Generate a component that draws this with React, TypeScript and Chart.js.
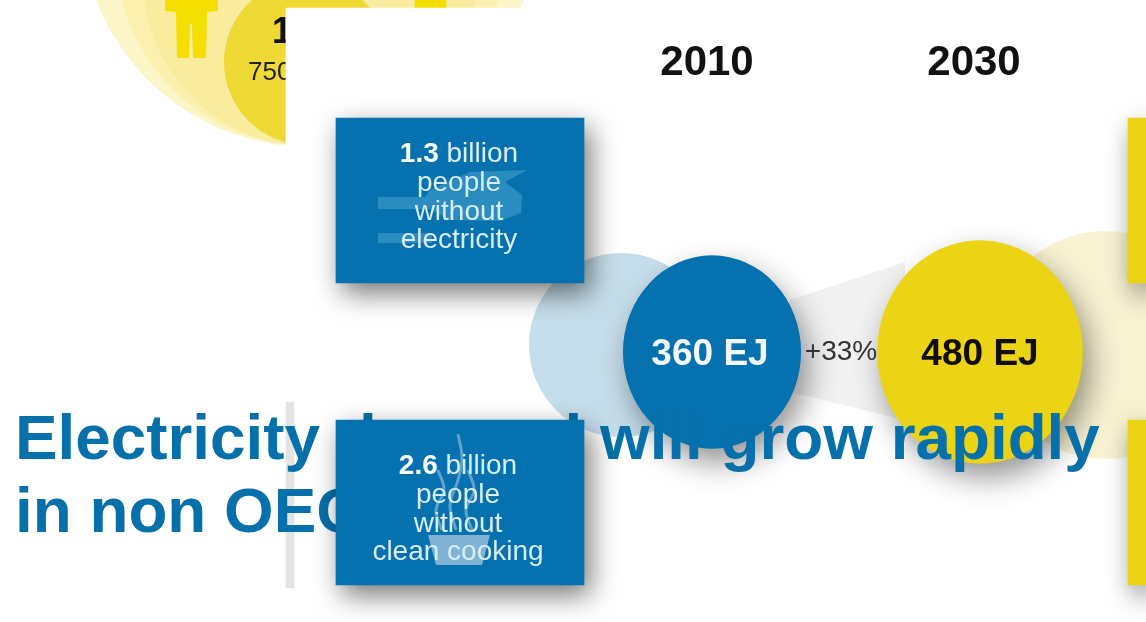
import React, { useEffect, useRef } from "react";
import { Chart, registerables } from "chart.js";

Chart.register(...registerables);

// Energy demand figures shown in the two main circles
const YEARS = ["2010", "2030"];
const ENERGY_EJ = [360, 480];
const GROWTH_LABEL = "+33%";
const TITLE_LINES = ["Electricity demand will grow rapidly", "in non OECD"];
const ELECTRICITY_LINES = ["people", "without", "electricity"];
const COOKING_LINES = ["people", "without", "clean cooking"];
const ELECTRICITY_HEAD = ["1.3", " billion"];
const COOKING_HEAD = ["2.6", " billion"];
const INSET_LABELS = ["1", "750"];

const BLUE = "#0571ae";
const YELLOW = "#ebd413";
const SANS = '"Liberation Sans"';
const W = 1146;
const H = 622;

const disc = (name: string, x: number, y: number, r: number, color: string, extra: any = {}) => ({
  type: "bubble",
  label: name,
  data: [{ x, y, r }],
  backgroundColor: color,
  borderWidth: 0,
  hoverRadius: 0,
  clip: false,
  ...extra,
});

const box = (name: string, x0: number, x1: number, y0: number, y1: number, color: string, extra: any = {}) => ({
  type: "bar",
  label: name,
  data: [{ x: (x0 + x1) / 2, y: [y0, y1] }],
  barThickness: x1 - x0,
  grouped: false,
  backgroundColor: color,
  borderWidth: 0,
  ...extra,
});

const shape = (name: string, pts: number[][], color: string) => ({
  type: "line",
  label: name,
  data: pts.map(([x, y]) => ({ x, y })),
  backgroundColor: color,
  borderWidth: 0,
  pointRadius: 0,
  fill: "shape",
  tension: 0,
  clip: false,
});

const stroke = (name: string, pts: number[][], color: string, width: number, tension = 0) => ({
  type: "line",
  label: name,
  data: pts.map(([x, y]) => ({ x, y })),
  borderColor: color,
  borderWidth: width,
  pointRadius: 0,
  fill: false,
  tension,
});

const boxGlow = { color: "rgba(0,0,0,0.55)", blur: 26, dx: 6, dy: 10 };
const circleGlow = { color: "rgba(0,0,0,0.42)", blur: 30, dx: 7, dy: 14 };
const RADIUS_PER_ROOT_EJ = 4.9;
const CIRCLE_STRETCH = { sx: 0.958, sy: 1.04 };

// Datasets listed from back to front
const layers: any[] = [
  disc("discOuter", 310, -82, 229, "#fcf5c8"),
  disc("discMid", 310, -48, 194, "#fbf0ae"),
  disc("discBand", 310, -21, 167, "#f9ec9e"),
  disc("discInner", 307, 62, 83, "#eed935"),
  shape(
    "personLeft",
    [[165, -4], [165, 11], [176, 12], [177, 58], [189, 58], [190, 24], [192, 24], [193, 58], [206, 58], [207, 12], [218, 11], [218, -4]],
    "#f5df00"
  ),
  box("personRight", 415, 446, 0, 9, "#f5df00"),
  box("panel", 286, 1146, 8, 622, "#ffffff"),
  box("panelEdge", 286, 294, 402, 588, "#e3e3e3"),
  shape("wedge", [[790, 300], [905, 262], [905, 420], [790, 392]], "#f1f1f1"),
  disc("paleBlue", 621, 345, 92, "#c6deeb"),
  disc("paleYellow", 1105, 345, 114, "#f8f2d2"),
  disc("energy2010", 712, 352, RADIUS_PER_ROOT_EJ * Math.sqrt(ENERGY_EJ[0]), BLUE, { stretch: CIRCLE_STRETCH, glow: circleGlow }),
  disc("energy2030", 980, 352, RADIUS_PER_ROOT_EJ * Math.sqrt(ENERGY_EJ[1]), YELLOW, { stretch: CIRCLE_STRETCH, glow: circleGlow }),
  box("rightTop", 1128, 1146, 118, 283, YELLOW, { glow: boxGlow }),
  box("rightBottom", 1128, 1146, 420, 585, YELLOW, { glow: boxGlow }),
  box("boxElectricity", 336, 584, 118, 283, BLUE, { glow: boxGlow }),
  shape(
    "plugBody",
    [[527, 170], [470, 172], [430, 190], [425, 197], [378, 197], [378, 209], [430, 209], [450, 220], [500, 221], [521, 213], [522, 195], [505, 182]],
    "#2b8cc0"
  ),
  stroke("plugWire", [[378, 238], [432, 238]], "#2b8cc0", 10),
  box("boxCooking", 336, 584, 420, 585, BLUE, { glow: boxGlow }),
  shape("cup", [[428, 535], [490, 535], [482, 565], [436, 565]], "#7fb2d4"),
  stroke("steamA", [[442, 530], [436, 510], [444, 490], [438, 470]], "#5ea2cb", 3, 0.4),
  stroke("steamB", [[456, 530], [450, 505], [458, 480], [462, 458], [458, 434]], "#5ea2cb", 3, 0.4),
  stroke("steamC", [[472, 530], [466, 510], [474, 490], [468, 470]], "#5ea2cb", 3, 0.4),
];

layers.forEach((d, i) => {
  d.order = layers.length - i;
});

const put = (ctx: CanvasRenderingContext2D, text: string, x: number, y: number, font: string, color: string, align: CanvasTextAlign = "center") => {
  ctx.font = font;
  ctx.fillStyle = color;
  ctx.textAlign = align;
  ctx.textBaseline = "middle";
  ctx.fillText(text, x, y);
};

const caption = (ctx: CanvasRenderingContext2D, head: string[], lines: string[], cx: number, y: number) => {
  const light = "#d9edf5";
  const bold = `bold 28px ${SANS}`;
  const thin = `28px ${SANS}`;
  ctx.font = bold;
  const a = ctx.measureText(head[0]).width;
  ctx.font = thin;
  const b = ctx.measureText(head[1]).width;
  const left = cx - (a + b) / 2;
  put(ctx, head[0], left, y, bold, "#ffffff", "left");
  put(ctx, head[1], left + a, y, thin, light, "left");
  lines.forEach((line, i) => put(ctx, line, cx, y + 29.5 + i * 28.5, thin, light));
};

// Text is painted right after the layer it sits on, so later layers can cover it
const textAfter: Record<string, (ctx: CanvasRenderingContext2D) => void> = {
  personRight: (ctx) => {
    put(ctx, INSET_LABELS[0], 272, 33, `bold 36px ${SANS}`, "#111111", "left");
    put(ctx, INSET_LABELS[1], 248, 73, `26px ${SANS}`, "#222222", "left");
  },
  panelEdge: (ctx) => {
    put(ctx, YEARS[0], 707, 63, `bold 42px ${SANS}`, "#111111");
    put(ctx, YEARS[1], 974, 63, `bold 42px ${SANS}`, "#111111");
  },
  energy2030: (ctx) => {
    put(ctx, `${ENERGY_EJ[0]} EJ`, 710, 355, `bold 37px ${SANS}`, "#f2f8fb");
    put(ctx, `${ENERGY_EJ[1]} EJ`, 980, 355, `bold 37px ${SANS}`, "#120c02");
    put(ctx, GROWTH_LABEL, 841, 352, `28px ${SANS}`, "#333333");
  },
  plugWire: (ctx) => caption(ctx, ELECTRICITY_HEAD, ELECTRICITY_LINES, 459, 154),
  steamC: (ctx) => caption(ctx, COOKING_HEAD, COOKING_LINES, 458, 466),
};

// The headline runs over the circles but under the lower box
const drawTitle = (ctx: CanvasRenderingContext2D) => {
  const font = `bold 63.8px ${SANS}`;
  put(ctx, TITLE_LINES[0], 15, 441, font, "#0670aa", "left");
  put(ctx, TITLE_LINES[1], 15, 514, font, "#0670aa", "left");
};

const layerEffects = {
  id: "layerEffects",
  beforeDatasetDraw(chart: any, args: any) {
    const ds = chart.data.datasets[args.index];
    const ctx = chart.ctx;
    ctx.save();
    if (ds.label === "boxCooking") drawTitle(ctx);
    if (ds.glow) {
      ctx.shadowColor = ds.glow.color;
      ctx.shadowBlur = ds.glow.blur;
      ctx.shadowOffsetX = ds.glow.dx;
      ctx.shadowOffsetY = ds.glow.dy;
    }
    if (ds.stretch) {
      const p = args.meta.data[0];
      ctx.translate(p.x, p.y);
      ctx.scale(ds.stretch.sx, ds.stretch.sy);
      ctx.translate(-p.x, -p.y);
    }
  },
  afterDatasetDraw(chart: any, args: any) {
    const ds = chart.data.datasets[args.index];
    const ctx = chart.ctx;
    ctx.restore();
    const paint = textAfter[ds.label];
    if (paint) {
      ctx.save();
      paint(ctx);
      ctx.restore();
    }
  },
};

export default function App() {
  const ref = useRef<HTMLCanvasElement>(null);

  useEffect(() => {
    if (!ref.current) return;
    const chart = new Chart(ref.current, {
      type: "bar",
      data: { datasets: layers },
      options: {
        animation: false,
        responsive: false,
        events: [],
        layout: { padding: 0, autoPadding: false },
        plugins: { legend: { display: false }, tooltip: { enabled: false }, title: { display: false } },
        scales: {
          x: { type: "linear", min: 0, max: W, display: false, offset: false },
          y: { type: "linear", min: 0, max: H, reverse: true, display: false, beginAtZero: false },
        },
      },
      plugins: [layerEffects],
    } as any);
    return () => chart.destroy();
  }, []);

  return (
    <div style={{ position: "fixed", left: 0, top: 0, width: W, height: H, background: "#ffffff" }}>
      <canvas ref={ref} width={W} height={H} style={{ display: "block" }} />
    </div>
  );
}
